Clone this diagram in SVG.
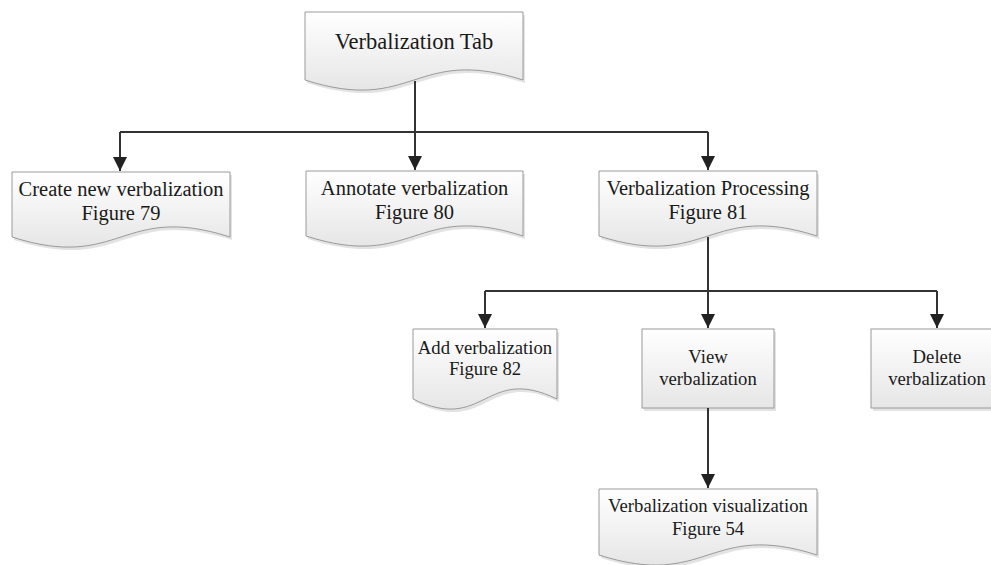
<svg xmlns="http://www.w3.org/2000/svg" width="991" height="565" viewBox="0 0 991 565">
<defs>
<linearGradient id="g" x1="0" y1="0" x2="0" y2="1">
<stop offset="0" stop-color="#ffffff"/>
<stop offset="1" stop-color="#e6e6e6"/>
</linearGradient>
<marker id="arr" markerUnits="userSpaceOnUse" markerWidth="14" markerHeight="14" viewBox="0 0 12 12" refX="12" refY="6" orient="auto">
<path d="M0,0 L12,6 L0,12 Z" fill="#222"/>
</marker>
</defs>
<style>
.shape{fill:url(#g);stroke:#9a9a9a;stroke-width:1}
.shadow{fill:#d0d0d0;opacity:0.6}
.t{font-family:"Liberation Serif","Times New Roman",serif;fill:#1a1a1a;text-anchor:middle}
.t1{font-size:22.5px}
.t2{font-size:20.5px}
.t3{font-size:18.7px}
.conn{fill:none;stroke:#333;stroke-width:2}
</style>
<rect width="991" height="565" fill="#ffffff"/>
<g id="n-tab">
<path class="shadow" transform="translate(2,3)" d="M305,12 H523 V80 C414,45 414,115 305,80 Z"/>
<path class="shape" d="M305,12 H523 V80 C414,45 414,115 305,80 Z"/>
<text class="t t1" x="414" y="49">Verbalization Tab</text>
</g>
<g id="n-create">
<path class="shadow" transform="translate(2,3)" d="M12,172 H230 V237 C121,202 121,272 12,237 Z"/>
<path class="shape" d="M12,172 H230 V237 C121,202 121,272 12,237 Z"/>
<text class="t t2" x="121" y="196">Create new verbalization</text>
<text class="t t2" x="121" y="220">Figure 79</text>
</g>
<g id="n-annotate">
<path class="shadow" transform="translate(2,3)" d="M306,171 H523 V236 C414.5,201 414.5,271 306,236 Z"/>
<path class="shape" d="M306,171 H523 V236 C414.5,201 414.5,271 306,236 Z"/>
<text class="t t2" x="414.5" y="195">Annotate verbalization</text>
<text class="t t2" x="414.5" y="219">Figure 80</text>
</g>
<g id="n-processing">
<path class="shadow" transform="translate(2,3)" d="M599,171 H817 V236 C708,201 708,271 599,236 Z"/>
<path class="shape" d="M599,171 H817 V236 C708,201 708,271 599,236 Z"/>
<text class="t t2" x="708" y="195">Verbalization Processing</text>
<text class="t t2" x="708" y="219">Figure 81</text>
</g>
<g id="n-add">
<path class="shadow" transform="translate(2,3)" d="M413,329 H557 V399 C485,364 485,434 413,399 Z"/>
<path class="shape" d="M413,329 H557 V399 C485,364 485,434 413,399 Z"/>
<text class="t t3" x="485" y="354">Add verbalization</text>
<text class="t t3" x="485" y="375">Figure 82</text>
</g>
<g id="n-view">
<rect class="shadow" x="644" y="332" width="132" height="79"/>
<rect class="shape" x="642" y="329" width="132" height="79"/>
<text class="t t3" x="708" y="363">View</text>
<text class="t t3" x="708" y="385">verbalization</text>
</g>
<g id="n-delete">
<rect class="shadow" x="873" y="332" width="132" height="79"/>
<rect class="shape" x="871" y="329" width="132" height="79"/>
<text class="t t3" x="937" y="363">Delete</text>
<text class="t t3" x="937" y="385">verbalization</text>
</g>
<g id="n-visualization">
<path class="shadow" transform="translate(2,3)" d="M599,489 H817 V555 C708,520 708,590 599,555 Z"/>
<path class="shape" d="M599,489 H817 V555 C708,520 708,590 599,555 Z"/>
<text class="t t3" x="708" y="512">Verbalization visualization</text>
<text class="t t3" x="708" y="535">Figure 54</text>
</g>
<g id="connectors">
<path class="conn" d="M415,81 V132"/>
<path class="conn" d="M120,132 H708"/>
<path class="conn" d="M120,132 V171" marker-end="url(#arr)"/>
<path class="conn" d="M415,132 V170" marker-end="url(#arr)"/>
<path class="conn" d="M708,132 V170" marker-end="url(#arr)"/>
<path class="conn" d="M708,237 V291"/>
<path class="conn" d="M485,291 H937"/>
<path class="conn" d="M485,291 V328" marker-end="url(#arr)"/>
<path class="conn" d="M708,291 V328" marker-end="url(#arr)"/>
<path class="conn" d="M937,291 V328" marker-end="url(#arr)"/>
<path class="conn" d="M708,408 V488" marker-end="url(#arr)"/>
</g>
</svg>
